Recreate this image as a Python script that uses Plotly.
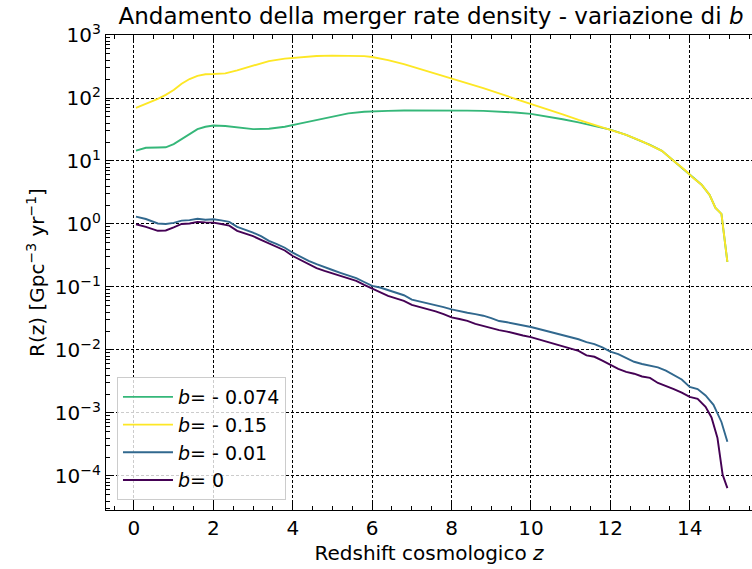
import plotly.graph_objects as go

# ---- data ----
z_low = [0.05, 0.3, 0.6, 0.8, 1.0, 1.2, 1.4, 1.6, 1.8, 2.0, 2.2, 2.4, 2.6, 2.8, 3.0,
         3.2, 3.4, 3.6, 3.8, 4.0, 4.2, 4.4, 4.6, 4.8, 5.0, 5.2, 5.4, 5.6, 5.8, 6.0,
         6.2, 6.4, 6.6, 6.8, 7.0, 7.2, 7.4, 7.6, 7.8, 8.0, 8.2, 8.4, 8.6, 8.8, 9.0,
         9.2, 9.4, 9.6, 9.8, 10.0, 10.2, 10.4, 10.6, 10.8, 11.0, 11.2, 11.4, 11.6,
         11.8, 12.0, 12.2, 12.4, 12.6, 12.8, 13.0, 13.2, 13.4, 13.6, 13.8, 14.0,
         14.2, 14.4, 14.6, 14.8, 14.95]
R_b001 = [1.31, 1.20, 1.02, 1.00, 1.04, 1.13, 1.15, 1.21, 1.17, 1.19, 1.14, 1.08, 0.90,
          0.82, 0.73, 0.64, 0.54, 0.48, 0.42, 0.35, 0.30, 0.26, 0.23, 0.205, 0.186,
          0.168, 0.152, 0.138, 0.120, 0.104, 0.098, 0.089, 0.081, 0.074, 0.063, 0.059,
          0.055, 0.052, 0.048, 0.044, 0.042, 0.039, 0.037, 0.035, 0.032, 0.0288,
          0.0275, 0.0262, 0.0250, 0.0232, 0.0215, 0.0200, 0.0185, 0.0170, 0.0160,
          0.0148, 0.0133, 0.0124, 0.0110, 0.0094, 0.0086, 0.0074, 0.0065, 0.0060,
          0.0057, 0.0053, 0.0047, 0.0040, 0.0034, 0.0026, 0.0024, 0.0019, 0.00135,
          0.00072, 0.00035]

z_b0 = [0.05, 0.3, 0.6, 0.8, 1.0, 1.2, 1.4, 1.6, 1.8, 2.0, 2.2, 2.4, 2.6, 2.8, 3.0,
        3.2, 3.4, 3.6, 3.8, 4.0, 4.2, 4.4, 4.6, 4.8, 5.0, 5.2, 5.4, 5.6, 5.8, 6.0,
        6.2, 6.4, 6.6, 6.8, 7.0, 7.2, 7.4, 7.6, 7.8, 8.0, 8.2, 8.4, 8.6, 8.8, 9.0,
        9.2, 9.4, 9.6, 9.8, 10.0, 10.2, 10.4, 10.6, 10.8, 11.0, 11.2, 11.4, 11.6,
        11.8, 12.0, 12.2, 12.4, 12.6, 12.8, 13.0, 13.2, 13.4, 13.6, 13.8, 14.0,
        14.2, 14.4, 14.55, 14.7, 14.83, 14.95]
R_b0 = [0.99, 0.90, 0.78, 0.79, 0.88, 1.00, 1.02, 1.08, 1.06, 1.05, 1.00, 0.94, 0.78,
        0.71, 0.64, 0.56, 0.49, 0.44, 0.38, 0.31, 0.27, 0.23, 0.20, 0.180, 0.165,
        0.148, 0.137, 0.125, 0.108, 0.094, 0.083, 0.072, 0.066, 0.060, 0.052, 0.048,
        0.045, 0.041, 0.037, 0.033, 0.031, 0.029, 0.026, 0.024, 0.0225, 0.0207,
        0.0196, 0.0180, 0.0170, 0.0160, 0.0147, 0.0135, 0.0126, 0.0115, 0.0105,
        0.0097, 0.0082, 0.0078, 0.0068, 0.0058, 0.0050, 0.0045, 0.0042, 0.0038,
        0.0036, 0.0030, 0.0027, 0.0024, 0.0021, 0.0018, 0.00168, 0.00125, 0.00085,
        0.00040, 0.000105, 0.000064]

z_high = [0.05, 0.3, 0.6, 0.8, 1.0, 1.2, 1.4, 1.6, 1.8, 2.0, 2.3, 2.6, 3.0, 3.4, 3.8,
          4.2, 4.6, 5.0, 5.4, 5.8, 6.0, 6.4, 6.8, 7.2, 7.6, 8.0, 8.4, 8.8, 9.2, 9.6,
          10.0, 10.4, 10.8, 11.2, 11.6, 12.0, 12.4, 12.8, 13.0, 13.3, 13.6, 13.9,
          14.1, 14.3, 14.5, 14.65, 14.8, 14.95]
R_b015 = [70, 81, 97, 112, 134, 168, 200, 225, 238, 240, 246, 275, 330, 385, 422,
          448, 465, 470, 470, 462, 448, 400, 345, 290, 245, 207, 173, 143, 118, 98,
          81, 67, 55, 45, 37.5, 32, 26, 20.5, 18, 14.5, 10, 7, 5.3, 4.2, 2.9, 1.8,
          1.45, 0.25]
R_b0074 = [14.6, 16.2, 16.4, 16.5, 18.5, 22, 27, 32, 35, 36.5, 36, 34, 32, 32.5, 35,
           39.5, 45, 51, 57, 60.5, 61.5, 62.5, 63.2, 63.5, 63.5, 63.2, 63, 62.5, 61.5,
           59, 56, 51, 46, 41, 36, 31.5, 26, 20.5, 18, 14.5, 10, 7, 5.3, 4.2, 2.9, 1.8,
           1.45, 0.25]

labels = ["<i>b</i>= - 0.074", "<i>b</i>= - 0.15", "<i>b</i>= - 0.01", "<i>b</i>= 0"]
colors = ["#35b779", "#fde725", "#31688e", "#440154"]

ytick_vals = [1e-4, 1e-3, 1e-2, 1e-1, 1, 10, 100, 1000]
ytick_text = ["10<sup>−4</sup>", "10<sup>−3</sup>", "10<sup>−2</sup>", "10<sup>−1</sup>",
              "10<sup>0</sup>", "10<sup>1</sup>", "10<sup>2</sup>", "10<sup>3</sup>"]

series = [(z_high, R_b0074), (z_high, R_b015), (z_low, R_b001), (z_b0, R_b0)]

fig = go.Figure()
for (xs, ys), name, c in zip(series, labels, colors):
    fig.add_trace(go.Scatter(x=xs, y=ys, mode="lines", name=name,
                             line=dict(color=c, width=1.9)))

font_family = "DejaVu Sans"
fig.update_layout(
    width=752, height=569,
    margin=dict(l=106, r=0, t=35, b=59),
    paper_bgcolor="white", plot_bgcolor="white",
    font=dict(family=font_family, color="black", size=20),
    title=dict(text="Andamento della merger rate density - variazione di <i>b</i>",
               x=431 / 752, xanchor="center", xref="container", y=1 - 16 / 569,
               yanchor="middle", font=dict(size=23)),
    showlegend=True,
    legend=dict(x=0.017, y=0.021, xanchor="left", yanchor="bottom",
                bgcolor="rgba(255,255,255,0.8)", bordercolor="#cccccc", borderwidth=1,
                itemwidth=50,
                font=dict(size=19, family=font_family)),
)
fig.update_xaxes(
    range=[-0.705, 15.57], tickvals=[0, 2, 4, 6, 8, 10, 12, 14],
    ticks="inside", ticklen=7, tickwidth=1, tickcolor="black",
    showline=True, linecolor="black", linewidth=1.2, mirror="ticks",
    showgrid=True, gridcolor="black", gridwidth=1, griddash="3px,2px",
    zeroline=False, tickfont=dict(size=20),
    minor=dict(dtick=0.5, ticks="inside", ticklen=4, tickcolor="black", showgrid=False),
    title=dict(text="Redshift cosmologico <i>z</i>", font=dict(size=20), standoff=6),
)
fig.update_yaxes(
    type="log", range=[-4.54, 3.0], tickvals=ytick_vals, ticktext=ytick_text,
    ticks="inside", ticklen=7, tickwidth=1, tickcolor="black",
    showline=True, linecolor="black", linewidth=1.2, mirror=False,
    showgrid=True, gridcolor="black", gridwidth=1, griddash="3px,2px",
    zeroline=False, tickfont=dict(size=20),
    minor=dict(dtick="D1", ticks="inside", ticklen=4, tickcolor="black", showgrid=False),
    title=dict(text="R(z) [Gpc<sup>−3</sup> yr<sup>−1</sup>]", font=dict(size=20), standoff=4),
)
fig.write_html("out.html")
